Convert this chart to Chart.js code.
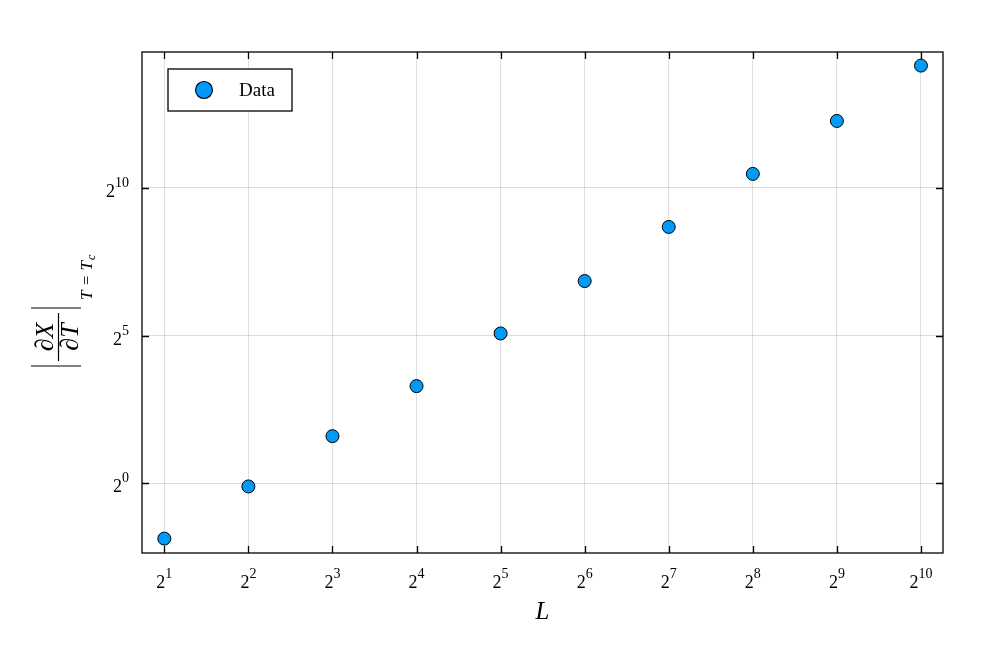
<!DOCTYPE html>
<html>
<head>
<meta charset="utf-8">
<script src="https://cdn.jsdelivr.net/npm/chart.js@4/dist/chart.umd.min.js"></script>
<style>
  html, body { margin: 0; padding: 0; background: #ffffff; }
  #wrap { width: 996px; height: 664px; position: relative; }
</style>
</head>
<body>
<div id="wrap"><canvas id="c" width="996" height="664"></canvas></div>
<script>
// ---- data ----
const sizesL = [2, 4, 8, 16, 32, 64, 128, 256, 512, 1024];
const dXdT = [0.275, 0.933, 3.03, 9.78, 33.6, 114.6, 407, 1409, 4870, 17800];
const seriesLabel = "Data";

// ---- ticks ----
const xTickValues = [2, 4, 8, 16, 32, 64, 128, 256, 512, 1024];
const xTickExps = ["1", "2", "3", "4", "5", "6", "7", "8", "9", "10"];
const yTickValues = [1, 32, 1024];
const yTickExps = ["0", "5", "10"];

const xRange = [1.664, 1228];
const yRange = [0.1963, 24490];

const SERIF = '"Liberation Serif", "DejaVu Serif", serif';
const MARKER = '#009AFA';

const decor = {
  id: 'decor',
  afterDraw(chart) {
    const ctx = chart.ctx;
    const a = chart.chartArea;
    const xs = chart.scales.x, ys = chart.scales.y;
    ctx.save();
    // frame
    ctx.strokeStyle = '#000';
    ctx.lineWidth = 1.3;
    ctx.strokeRect(a.left, a.top, a.right - a.left, a.bottom - a.top);
    // inner ticks
    const tl = 7;
    ctx.lineWidth = 1.3;
    ctx.beginPath();
    xTickValues.forEach(v => {
      const px = Math.round(xs.getPixelForValue(v)) + 0.5;
      ctx.moveTo(px, a.bottom); ctx.lineTo(px, a.bottom - tl);
      ctx.moveTo(px, a.top); ctx.lineTo(px, a.top + tl);
    });
    yTickValues.forEach(v => {
      const py = Math.round(ys.getPixelForValue(v)) + 0.5;
      ctx.moveTo(a.left, py); ctx.lineTo(a.left + tl, py);
      ctx.moveTo(a.right, py); ctx.lineTo(a.right - tl, py);
    });
    ctx.stroke();

    // tick labels (base 2 with superscript exponent)
    const baseFont = '18px ' + SERIF;
    const supFont = '14px ' + SERIF;
    ctx.fillStyle = '#000';
    ctx.textBaseline = 'alphabetic';
    xTickValues.forEach((v, i) => {
      const px = xs.getPixelForValue(v);
      ctx.font = baseFont; const wb = ctx.measureText('2').width;
      ctx.font = supFont; const ws = ctx.measureText(xTickExps[i]).width;
      const x0 = px - (wb + ws) / 2;
      ctx.font = baseFont; ctx.textAlign = 'left';
      ctx.fillText('2', x0, a.bottom + 35);
      ctx.font = supFont;
      ctx.fillText(xTickExps[i], x0 + wb, a.bottom + 25);
    });
    yTickValues.forEach((v, i) => {
      const py = ys.getPixelForValue(v);
      ctx.font = supFont; const ws = ctx.measureText(yTickExps[i]).width;
      ctx.font = baseFont; const wb = ctx.measureText('2').width;
      const xr = a.left - 13;
      ctx.textAlign = 'left';
      ctx.font = baseFont;
      ctx.fillText('2', xr - ws - wb, py + 9);
      ctx.font = supFont;
      ctx.fillText(yTickExps[i], xr - ws, py - 1);
    });

    // x title
    ctx.font = 'italic 25px ' + SERIF;
    ctx.textAlign = 'center';
    ctx.fillText('L', (a.left + a.right) / 2, a.bottom + 66);

    // y title: |∂X/∂T|_{T=T_c}
    ctx.save();
    ctx.translate(58, 337);
    ctx.rotate(-Math.PI / 2);
    ctx.font = 'italic 26px ' + SERIF;
    ctx.textAlign = 'center';
    ctx.fillText('\u2202X', 0, -5);
    ctx.fillText('\u2202T', 0, 20);
    ctx.lineWidth = 1.2;
    ctx.beginPath();
    ctx.moveTo(-24, 0.5); ctx.lineTo(24, 0.5);
    ctx.moveTo(-29, -27); ctx.lineTo(-29, 23);
    ctx.moveTo(29, -27); ctx.lineTo(29, 23);
    ctx.stroke();
    ctx.font = 'italic 17px ' + SERIF;
    ctx.textAlign = 'left';
    const sub = 'T = T';
    ctx.fillText(sub, 37, 34);
    const sw = ctx.measureText(sub).width;
    ctx.font = 'italic 12px ' + SERIF;
    ctx.fillText('c', 37 + sw + 1, 37);
    ctx.restore();

    // legend
    const lx = 168, ly = 69, lw = 124, lh = 42;
    ctx.fillStyle = '#fff';
    ctx.fillRect(lx, ly, lw, lh);
    ctx.strokeStyle = '#000';
    ctx.lineWidth = 1.3;
    ctx.strokeRect(lx, ly, lw, lh);
    ctx.beginPath();
    ctx.arc(lx + 36, ly + 21, 8.5, 0, Math.PI * 2);
    ctx.fillStyle = MARKER; ctx.fill();
    ctx.lineWidth = 1.1; ctx.stroke();
    ctx.fillStyle = '#000';
    ctx.font = '19px ' + SERIF;
    ctx.textAlign = 'left';
    ctx.fillText(chart.data.datasets[0].label, lx + 71, ly + 27);
    ctx.restore();
  }
};

new Chart(document.getElementById('c'), {
  type: 'scatter',
  data: {
    datasets: [{
      label: seriesLabel,
      data: sizesL.map((L, i) => ({ x: L, y: dXdT[i] })),
      pointRadius: 6.5,
      pointHoverRadius: 6.5,
      pointBackgroundColor: MARKER,
      pointBorderColor: '#000',
      pointBorderWidth: 1
    }]
  },
  options: {
    responsive: false,
    animation: false,
    devicePixelRatio: 1,
    layout: { padding: { left: 142, top: 52, right: 53, bottom: 111 } },
    plugins: { legend: { display: false }, tooltip: { enabled: false } },
    scales: {
      x: {
        type: 'logarithmic',
        min: xRange[0], max: xRange[1],
        afterBuildTicks: s => { s.ticks = xTickValues.map(v => ({ value: v })); },
        ticks: { display: false },
        grid: { color: 'rgba(0,0,0,0.13)', lineWidth: 1, drawTicks: false },
        border: { display: false }
      },
      y: {
        type: 'logarithmic',
        min: yRange[0], max: yRange[1],
        afterBuildTicks: s => { s.ticks = yTickValues.map(v => ({ value: v })); },
        ticks: { display: false },
        grid: { color: 'rgba(0,0,0,0.13)', lineWidth: 1, drawTicks: false },
        border: { display: false }
      }
    }
  },
  plugins: [decor]
});
</script>
</body>
</html>
